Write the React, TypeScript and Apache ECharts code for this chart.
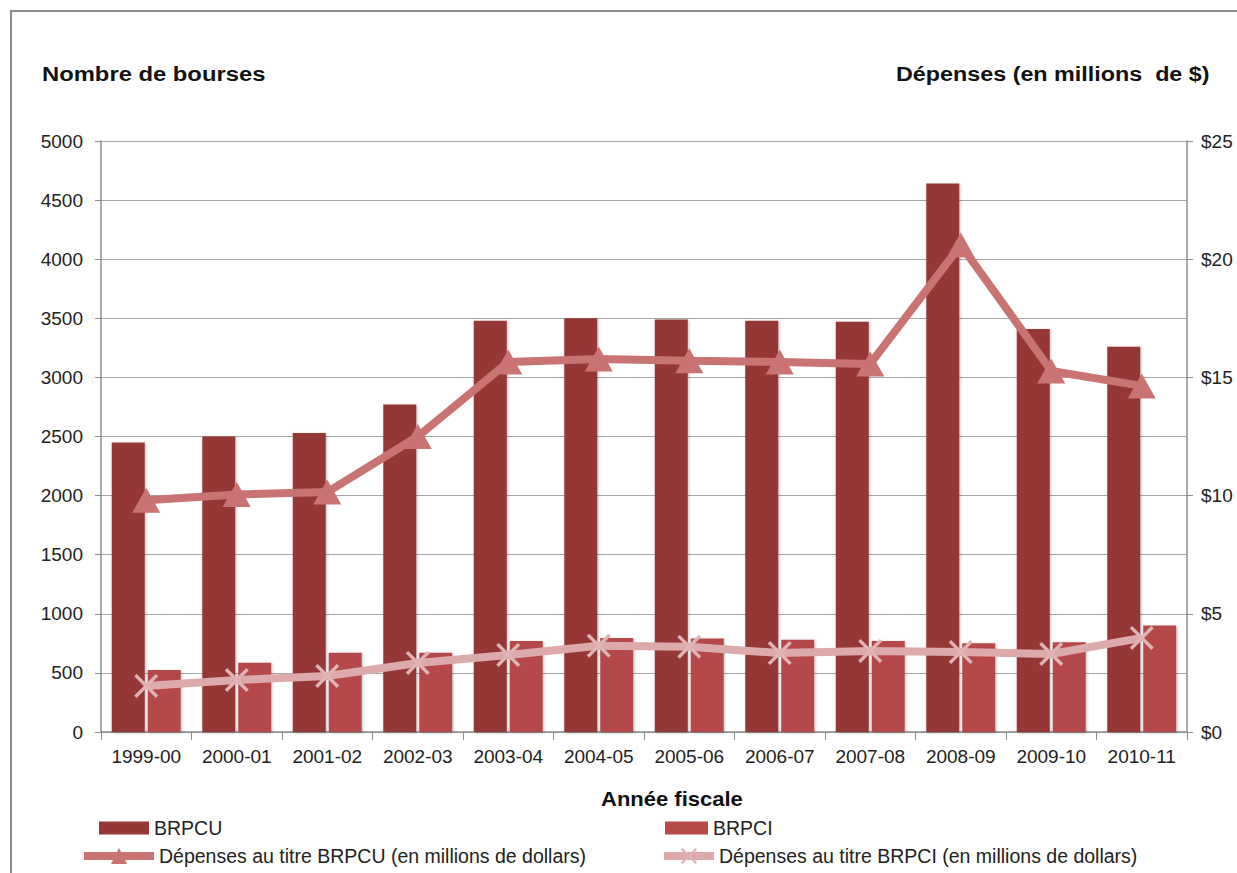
import React, { useEffect, useRef } from "react";
import * as echarts from "echarts";

const categories = ["1999-00", "2000-01", "2001-02", "2002-03", "2003-04", "2004-05", "2005-06", "2006-07", "2007-08", "2008-09", "2009-10", "2010-11"];
const brpcu = [2450, 2500, 2530, 2770, 3480, 3500, 3490, 3480, 3470, 4640, 3410, 3260];
const brpci = [525, 585, 670, 670, 770, 795, 790, 780, 770, 750, 760, 900];
const depBrpcu = [9.8, 10.05, 10.15, 12.5, 15.65, 15.78, 15.7, 15.65, 15.57, 20.6, 15.27, 14.64];
const depBrpci = [1.95, 2.2, 2.37, 2.92, 3.26, 3.65, 3.61, 3.34, 3.43, 3.38, 3.3, 3.98];
const leftTitle = "Nombre de bourses";
const rightTitle = "Dépenses (en millions  de $)";
const xTitle = "Année fiscale";
const names = ["BRPCU", "BRPCI", "Dépenses au titre BRPCU (en millions de dollars)", "Dépenses au titre BRPCI (en millions de dollars)"];

const FONT = "'Liberation Sans', Arial, sans-serif";
const XSYM = "path://M0,1 L1,0 L5,4 L9,0 L10,1 L6,5 L10,9 L9,10 L5,6 L1,10 L0,9 L4,5 Z";

export default function App() {
  const ref = useRef<HTMLDivElement>(null);
  useEffect(() => {
    const chart = echarts.init(ref.current!, null, { renderer: "svg" });
    const axisCol = "#8c8c8c";
    const labelStyle = { fontFamily: FONT, fontSize: 19, color: "#222" };
    const legendText = { fontFamily: FONT, fontSize: 19.5, color: "#222" };
    chart.setOption({
      animation: false,
      backgroundColor: "#fff",
      grid: { left: 101, right: 50, top: 141, bottom: 141 },
      graphic: [
        { type: "rect", shape: { x: 11, y: 11, width: 1260, height: 900 }, style: { fill: "none", stroke: "#8a8a8a", lineWidth: 2 } },
        { type: "text", x: 42, y: 64, scaleX: 1.19, style: { text: leftTitle, font: `bold 20px ${FONT}`, fill: "#111" } },
        { type: "text", x: 896, y: 64, scaleX: 1.166, style: { text: rightTitle, font: `bold 20px ${FONT}`, fill: "#111" } },
        { type: "text", x: 601, y: 789, scaleX: 1.1, style: { text: xTitle, font: `bold 20px ${FONT}`, fill: "#111" } },
      ],
      legend: [
        { data: [{ name: names[0], icon: "rect" }], left: 94, top: 813, itemWidth: 50, itemHeight: 13, textStyle: legendText },
        { data: [{ name: names[1], icon: "rect" }], left: 660, top: 813, itemWidth: 43, itemHeight: 13, textStyle: legendText },
        { data: [names[2]], left: 75, top: 841, itemWidth: 70, itemHeight: 20, textStyle: legendText, lineStyle: { width: 8 } },
        { data: [names[3]], left: 655, top: 841, itemWidth: 50, itemHeight: 20, textStyle: legendText, lineStyle: { width: 8 } },
      ],
      xAxis: {
        type: "category",
        data: categories,
        axisLine: { lineStyle: { color: axisCol, width: 1.5 } },
        axisTick: { show: true, length: 8, lineStyle: { color: axisCol } },
        axisLabel: { ...labelStyle, margin: 15, interval: 0 },
      },
      yAxis: [
        {
          type: "value", min: 0, max: 5000, interval: 500,
          axisLine: { show: true, lineStyle: { color: axisCol, width: 1.5 } },
          axisTick: { show: true, length: 6, lineStyle: { color: axisCol } },
          axisLabel: { ...labelStyle, margin: 18, formatter: (v: number) => String(v) },
          splitLine: { lineStyle: { color: "#a6a6a6", width: 1.2 } },
        },
        {
          type: "value", min: 0, max: 25, interval: 5, position: "right",
          axisLine: { show: true, lineStyle: { color: axisCol, width: 1.5 } },
          axisTick: { show: true, length: 6, lineStyle: { color: axisCol } },
          axisLabel: { ...labelStyle, margin: 14, formatter: (v: number) => "$" + v },
          splitLine: { show: false },
        },
      ],
      series: [
        {
          name: names[0], type: "bar", data: brpcu, barWidth: 33, barGap: "9%",
          itemStyle: { color: "#953735", shadowColor: "rgba(0,0,0,0.25)", shadowBlur: 3, shadowOffsetX: 1, shadowOffsetY: 1 },
        },
        {
          name: names[1], type: "bar", data: brpci, barWidth: 33,
          itemStyle: { color: "#b54a48", shadowColor: "rgba(0,0,0,0.25)", shadowBlur: 3, shadowOffsetX: 1, shadowOffsetY: 1 },
        },
        {
          name: names[2], type: "line", yAxisIndex: 1, data: depBrpcu,
          symbol: "triangle", symbolSize: [28, 25],
          lineStyle: { color: "#c97472", width: 8 },
          itemStyle: { color: "#c97472" },
          z: 5,
        },
        {
          name: names[3], type: "line", yAxisIndex: 1, data: depBrpci,
          symbol: XSYM, symbolSize: 24,
          lineStyle: { color: "#dcaaaa", width: 8 },
          itemStyle: { color: "#e0b4b4" },
          z: 5,
        },
      ],
    });
    return () => chart.dispose();
  }, []);
  return <div ref={ref} style={{ position: "fixed", left: 0, top: 0, width: 1237, height: 873 }} />;
}
